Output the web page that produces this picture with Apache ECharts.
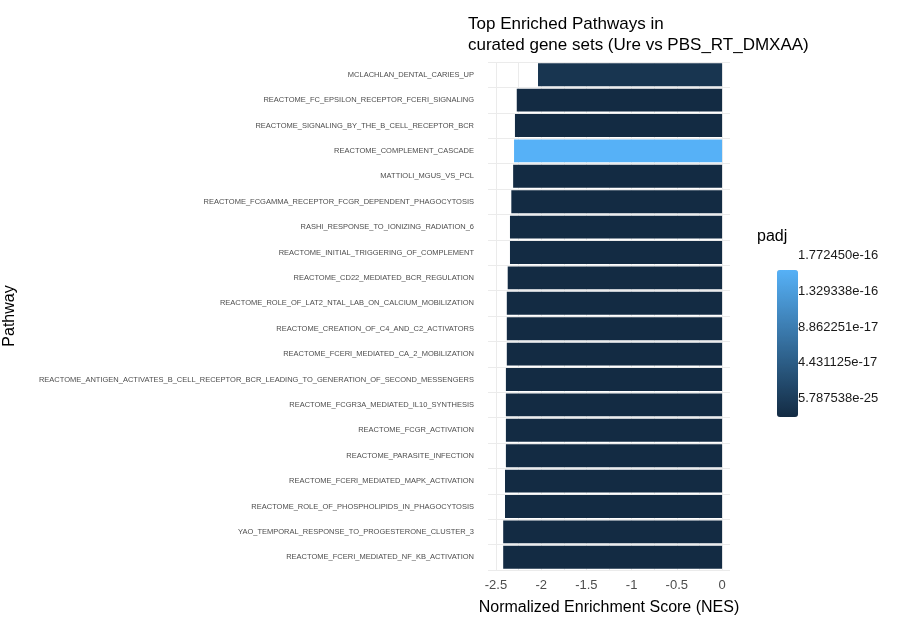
<!DOCTYPE html>
<html>
<head>
<meta charset="utf-8">
<title>Top Enriched Pathways</title>
<script src="https://cdn.jsdelivr.net/npm/echarts@6/dist/echarts.min.js"></script>
<style>html,body{margin:0;background:#fff}</style>
</head>
<body>
<div id="chart" style="width:906px;height:626px;"></div>
<script>
// pathways, top to bottom
var pathways = [
    'MCLACHLAN_DENTAL_CARIES_UP',
    'REACTOME_FC_EPSILON_RECEPTOR_FCERI_SIGNALING',
    'REACTOME_SIGNALING_BY_THE_B_CELL_RECEPTOR_BCR',
    'REACTOME_COMPLEMENT_CASCADE',
    'MATTIOLI_MGUS_VS_PCL',
    'REACTOME_FCGAMMA_RECEPTOR_FCGR_DEPENDENT_PHAGOCYTOSIS',
    'RASHI_RESPONSE_TO_IONIZING_RADIATION_6',
    'REACTOME_INITIAL_TRIGGERING_OF_COMPLEMENT',
    'REACTOME_CD22_MEDIATED_BCR_REGULATION',
    'REACTOME_ROLE_OF_LAT2_NTAL_LAB_ON_CALCIUM_MOBILIZATION',
    'REACTOME_CREATION_OF_C4_AND_C2_ACTIVATORS',
    'REACTOME_FCERI_MEDIATED_CA_2_MOBILIZATION',
    'REACTOME_ANTIGEN_ACTIVATES_B_CELL_RECEPTOR_BCR_LEADING_TO_GENERATION_OF_SECOND_MESSENGERS',
    'REACTOME_FCGR3A_MEDIATED_IL10_SYNTHESIS',
    'REACTOME_FCGR_ACTIVATION',
    'REACTOME_PARASITE_INFECTION',
    'REACTOME_FCERI_MEDIATED_MAPK_ACTIVATION',
    'REACTOME_ROLE_OF_PHOSPHOLIPIDS_IN_PHAGOCYTOSIS',
    'YAO_TEMPORAL_RESPONSE_TO_PROGESTERONE_CLUSTER_3',
    'REACTOME_FCERI_MEDIATED_NF_KB_ACTIVATION'
];
var nes = [-2.035, -2.27, -2.29, -2.30, -2.31, -2.33, -2.345, -2.345, -2.37, -2.38,
           -2.38, -2.38, -2.39, -2.39, -2.39, -2.39, -2.40, -2.40, -2.42, -2.42];
var padj = [1.3e-17, 2e-20, 1e-20, 1.772450e-16, 1e-20, 1e-21, 1e-21, 1e-21, 1e-21, 1e-22,
            1e-22, 1e-22, 1e-22, 1e-22, 1e-22, 1e-23, 1e-23, 1e-23, 1e-24, 5.787538e-25];
var padjTicks = ['1.772450e-16', '1.329338e-16', '8.862251e-17', '4.431125e-17', '5.787538e-25'];
var nesTicks = [-2.5, -2, -1.5, -1, -0.5, 0];
var nesMinor = [-2.5, -2.25, -2, -1.75, -1.5, -1.25, -1, -0.75, -0.5, -0.25, 0];

var padjMin = 5.787538e-25, padjMax = 1.772450e-16;
var barTop = 257, barBottom = 400;

var myChart = echarts.init(document.getElementById('chart'));
var legendTexts = padjTicks.map(function (t) {
    var v = parseFloat(t);
    var y = barBottom - (v - padjMin) / (padjMax - padjMin) * (barBottom - barTop);
    return {
        type: 'text', left: 798, top: y - 8,
        style: { text: t, fontSize: 13, fill: '#1a1a1a', fontFamily: 'Liberation Sans' }
    };
});
legendTexts.push({
    type: 'text', left: 757, top: 229,
    style: { text: 'padj', fontSize: 16, fill: '#000', fontFamily: 'Liberation Sans' }
});

myChart.setOption({
    textStyle: { fontFamily: 'Liberation Sans' },
    title: {
        text: 'Top Enriched Pathways in\ncurated gene sets (Ure vs PBS_RT_DMXAA)',
        left: 463, top: 9,
        textStyle: { fontSize: 17, fontWeight: 'normal', color: '#000', lineHeight: 21 }
    },
    grid: { left: 488, right: 176, top: 62, bottom: 56 },
    xAxis: {
        type: 'value', min: -2.588, max: 0.088,
        name: 'Normalized Enrichment Score (NES)', nameLocation: 'middle', nameGap: 30,
        nameTextStyle: { fontSize: 16, color: '#000' },
        axisLine: { show: false },
        axisTick: { show: false, customValues: nesMinor },
        axisLabel: { customValues: nesTicks, fontSize: 13, color: '#4d4d4d', margin: 9 },
        splitLine: { lineStyle: { color: '#ebebeb' } }
    },
    yAxis: {
        type: 'category', data: pathways, inverse: true,
        name: 'Pathway', nameLocation: 'middle', nameGap: 470,
        nameTextStyle: { fontSize: 16, color: '#000' },
        axisLine: { show: false }, axisTick: { show: false },
        axisLabel: { fontSize: 7.5, color: '#4d4d4d', margin: 14 },
        splitLine: { show: true, lineStyle: { color: '#ebebeb' } }
    },
    visualMap: {
        type: 'continuous', min: padjMin, max: padjMax, dimension: 2, seriesIndex: 0,
        inRange: { color: ['#132B43', '#56B1F7'] },
        left: 762, top: barTop - 2, itemWidth: 21, itemHeight: barBottom - barTop + 4,
        text: ['', ''], showLabel: false, calculable: false, realtime: false
    },
    graphic: legendTexts,
    series: [{
        type: 'bar', barCategoryGap: '10%',
        data: nes.map(function (v, i) { return [v, pathways[i], padj[i]]; }),
        encode: { x: 0, y: 1 }
    }]
});
</script>
</body>
</html>
